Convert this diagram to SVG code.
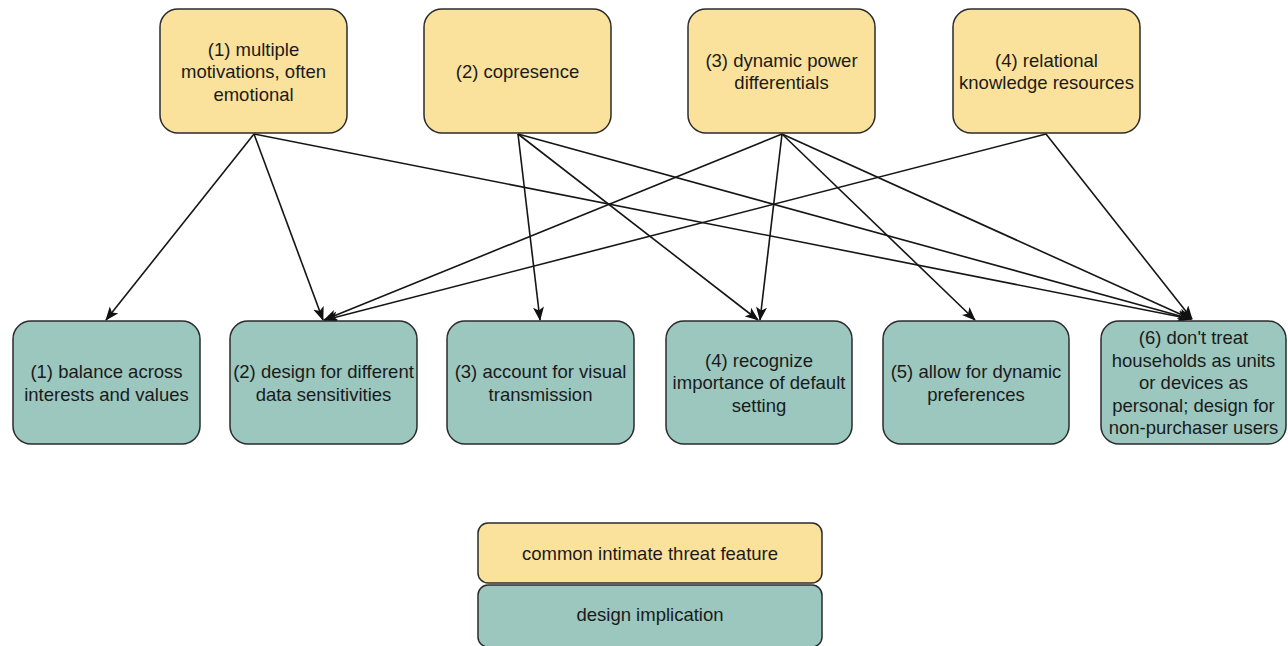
<svg xmlns="http://www.w3.org/2000/svg" width="1288" height="646" viewBox="0 0 1288 646">
<defs>
<style>
.feat{fill:#fbe29c;stroke:#2b2b2b;stroke-width:1.5}
.impl{fill:#9bc7bf;stroke:#2b2b2b;stroke-width:1.5}
text{font-family:"Liberation Sans",Arial,Helvetica,sans-serif;font-size:18.5px;fill:#1a1a1a;text-anchor:middle}
.edge{stroke:#151515;stroke-width:1.6;fill:none;marker-end:url(#arr)}
</style>
<marker id="arr" viewBox="0 0 14 11" refX="13" refY="5.5" markerWidth="14" markerHeight="11" markerUnits="userSpaceOnUse" orient="auto">
<path d="M0,0 L14,5.5 L0,11 L3.5,5.5 Z" fill="#111"/>
</marker>
</defs>
<rect width="1288" height="646" fill="#ffffff"/>

<g id="connectors">
<line class="edge" x1="254" y1="134" x2="106" y2="320"/>
<line class="edge" x1="254" y1="134" x2="323" y2="320"/>
<line class="edge" x1="254" y1="134" x2="1191" y2="319"/>
<line class="edge" x1="518" y1="134" x2="540" y2="320"/>
<line class="edge" x1="518" y1="134" x2="758" y2="320"/>
<line class="edge" x1="518" y1="134" x2="1191" y2="319"/>
<line class="edge" x1="782" y1="134" x2="324" y2="320"/>
<line class="edge" x1="782" y1="134" x2="760" y2="320"/>
<line class="edge" x1="782" y1="134" x2="975" y2="320"/>
<line class="edge" x1="782" y1="134" x2="1191" y2="319"/>
<line class="edge" x1="1046" y1="134" x2="325" y2="320"/>
<line class="edge" x1="1046" y1="134" x2="1192" y2="319"/>
</g>

<g id="feature1">
<rect class="feat" x="160" y="9" width="187" height="124" rx="18"/>
<text x="253.5" y="55.5">(1) multiple</text>
<text x="253.5" y="78">motivations, often</text>
<text x="253.5" y="100.5">emotional</text>
</g>
<g id="feature2">
<rect class="feat" x="424" y="9" width="187" height="124" rx="18"/>
<text x="517.5" y="78">(2) copresence</text>
</g>
<g id="feature3">
<rect class="feat" x="688" y="9" width="187" height="124" rx="18"/>
<text x="781.5" y="66.5">(3) dynamic power</text>
<text x="781.5" y="89">differentials</text>
</g>
<g id="feature4">
<rect class="feat" x="953" y="9" width="187" height="124" rx="18"/>
<text x="1046.5" y="66.5">(4) relational</text>
<text x="1046.5" y="89">knowledge resources</text>
</g>

<g id="impl1">
<rect class="impl" x="13" y="321" width="187" height="123" rx="18"/>
<text x="106.5" y="378">(1) balance across</text>
<text x="106.5" y="400.5">interests and values</text>
</g>
<g id="impl2">
<rect class="impl" x="230" y="321" width="187" height="123" rx="18"/>
<text x="323.5" y="378">(2) design for different</text>
<text x="323.5" y="400.5">data sensitivities</text>
</g>
<g id="impl3">
<rect class="impl" x="447" y="321" width="187" height="123" rx="18"/>
<text x="540.5" y="378">(3) account for visual</text>
<text x="540.5" y="400.5">transmission</text>
</g>
<g id="impl4">
<rect class="impl" x="666" y="321" width="186" height="123" rx="18"/>
<text x="759" y="366.5">(4) recognize</text>
<text x="759" y="389">importance of default</text>
<text x="759" y="411.5">setting</text>
</g>
<g id="impl5">
<rect class="impl" x="883" y="321" width="186" height="123" rx="18"/>
<text x="976" y="378">(5) allow for dynamic</text>
<text x="976" y="400.5">preferences</text>
</g>
<g id="impl6">
<rect class="impl" x="1101" y="321" width="185" height="123" rx="18"/>
<text x="1193.5" y="344">(6) don't treat</text>
<text x="1193.5" y="366.5">households as units</text>
<text x="1193.5" y="389">or devices as</text>
<text x="1193.5" y="411.5">personal; design for</text>
<text x="1193.5" y="434">non-purchaser users</text>
</g>

<g id="legend-feature">
<rect class="feat" x="478" y="523" width="344" height="60" rx="10"/>
<text x="650" y="559.5">common intimate threat feature</text>
</g>
<g id="legend-implication">
<rect class="impl" x="478" y="585" width="344" height="62" rx="10"/>
<text x="650" y="621">design implication</text>
</g>
</svg>
